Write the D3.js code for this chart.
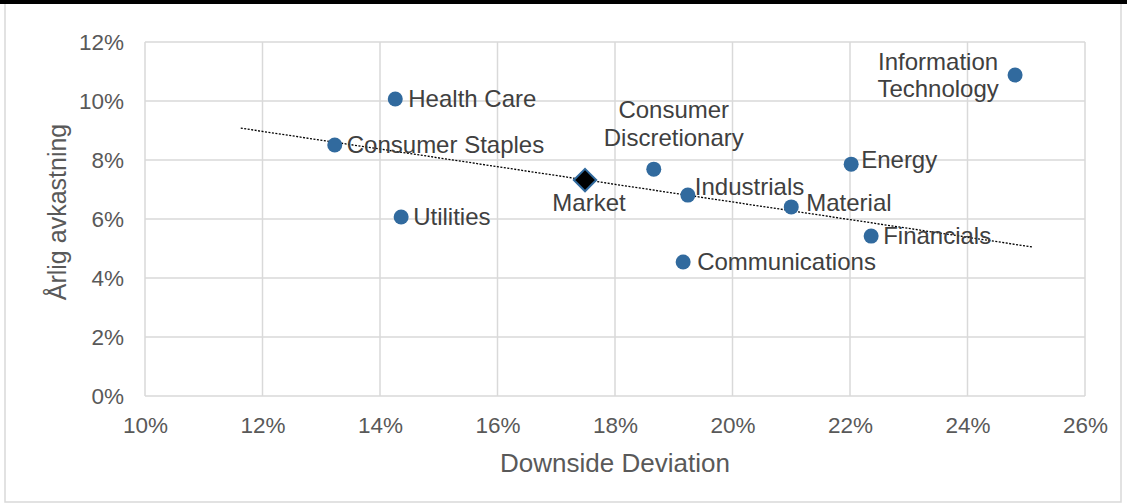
<!DOCTYPE html>
<html>
<head>
<meta charset="utf-8">
<script src="https://cdn.jsdelivr.net/npm/d3@7"></script>
<style>
  body { margin: 0; background: #fff; }
  svg { display: block; font-family: "Liberation Sans", Arial, sans-serif; }
</style>
</head>
<body>
<svg id="chart" width="1127" height="504"></svg>
<script>
// ---- data ----
const sectors = ["Health Care", "Consumer Staples", "Utilities", "Consumer Discretionary", "Industrials",
                 "Communications", "Material", "Energy", "Financials", "Information Technology"];
const downsideDev = [14.26, 13.23, 14.36, 18.66, 19.24, 19.16, 21.00, 22.02, 22.36, 24.81];
const annualReturn = [10.07, 8.51, 6.07, 7.69, 6.81, 4.54, 6.41, 7.86, 5.42, 10.88];
const marketLabel = "Market";
const marketDev = 17.49;
const marketReturn = 7.32;
const trendDev = [11.63, 25.11];
const trendReturn = [9.08, 5.05];
const xTicks = [10, 12, 14, 16, 18, 20, 22, 24, 26];
const yTicks = [0, 2, 4, 6, 8, 10, 12];
const xTitle = "Downside Deviation";
const yTitle = "Årlig avkastning";

// ---- label placement (layout only) ----
const labelLines = {
  "Consumer Discretionary": ["Consumer", "Discretionary"],
  "Information Technology": ["Information", "Technology"]
};
const labelPlace = {
  "Health Care": {dx: 13, dy: [8], anchor: "start"},
  "Consumer Staples": {dx: 12, dy: [8], anchor: "start"},
  "Utilities": {dx: 12, dy: [8], anchor: "start"},
  "Consumer Discretionary": {dx: 20, dy: [-51, -23], anchor: "middle"},
  "Industrials": {dx: 7, dy: [0], anchor: "start"},
  "Communications": {dx: 14, dy: [8], anchor: "start"},
  "Material": {dx: 15, dy: [4], anchor: "start"},
  "Energy": {dx: 10, dy: [4], anchor: "start"},
  "Financials": {dx: 12, dy: [8], anchor: "start"},
  "Information Technology": {dx: -77, dy: [-5, 22], anchor: "middle"}
};

const svg = d3.select("#chart");
const W = 1127, H = 504;
const plot = {left: 145, right: 1085, top: 42, bottom: 396};

// frame
svg.append("rect").attr("x", 5).attr("y", 3).attr("width", 1116).attr("height", 499)
  .attr("fill", "#fff").attr("stroke", "#d9d9d9").attr("stroke-width", 1.5);
svg.append("rect").attr("x", 0).attr("y", 0).attr("width", W).attr("height", 4).attr("fill", "#000");

const x = d3.scaleLinear().domain([10, 26]).range([plot.left, plot.right]);
const y = d3.scaleLinear().domain([0, 12]).range([plot.bottom, plot.top]);

const grid = svg.append("g");
grid.selectAll("line.v").data(xTicks).join("line")
  .attr("x1", d => x(d)).attr("x2", d => x(d))
  .attr("y1", plot.top).attr("y2", plot.bottom)
  .attr("stroke", "#d9d9d9").attr("stroke-width", 1.5);
grid.selectAll("line.h").data(yTicks).join("line")
  .attr("x1", plot.left).attr("x2", plot.right)
  .attr("y1", d => y(d)).attr("y2", d => y(d))
  .attr("stroke", "#d9d9d9").attr("stroke-width", 1.5);

// axes (ticks as text)
const xAxis = d3.axisBottom(x).tickValues(xTicks).tickFormat(d => d + "%").tickSize(0).tickPadding(0);
const gx = svg.append("g").attr("transform", `translate(0,${plot.bottom})`).call(xAxis);
gx.select(".domain").remove();
gx.selectAll("text").attr("font-size", 22.5).attr("fill", "#595959")
  .attr("font-family", "Liberation Sans, Arial, sans-serif").attr("dy", null).attr("y", 37);

const yAxis = d3.axisLeft(y).tickValues(yTicks).tickFormat(d => d + "%").tickSize(0).tickPadding(0);
const gy = svg.append("g").attr("transform", `translate(${plot.left},0)`).call(yAxis);
gy.select(".domain").remove();
gy.selectAll("text").attr("font-size", 22.5).attr("fill", "#595959")
  .attr("font-family", "Liberation Sans, Arial, sans-serif").attr("x", -21).attr("dy", "0.35em");

// axis titles
svg.append("text").attr("x", (plot.left + plot.right) / 2).attr("y", 472)
  .attr("text-anchor", "middle").attr("font-size", 26).attr("fill", "#595959").text(xTitle);
svg.append("text").attr("transform", `translate(66,212) rotate(-90)`)
  .attr("text-anchor", "middle").attr("font-size", 25).attr("fill", "#595959").text(yTitle);

// trend line
svg.append("line")
  .attr("x1", x(trendDev[0])).attr("y1", y(trendReturn[0]))
  .attr("x2", x(trendDev[1])).attr("y2", y(trendReturn[1]))
  .attr("stroke", "#000").attr("stroke-width", 1.3).attr("stroke-dasharray", "2,1.5");

// points
const pts = sectors.map((s, i) => ({name: s, dev: downsideDev[i], ret: annualReturn[i]}));
svg.append("g").selectAll("circle").data(pts).join("circle")
  .attr("cx", d => x(d.dev)).attr("cy", d => y(d.ret)).attr("r", 7.5)
  .attr("fill", "#316a9e");

// market diamond
svg.append("path")
  .attr("d", d3.symbol().type(d3.symbolDiamond2 || d3.symbolSquare2).size(320)())
  .attr("transform", `translate(${x(marketDev)},${y(marketReturn)}) rotate(${d3.symbolDiamond2 ? 0 : 45})`)
  .attr("fill", "#000").attr("stroke", "#316a9e").attr("stroke-width", 2);

// labels
const lbl = svg.append("g").attr("font-size", 24).attr("fill", "#404040");
pts.forEach(d => {
  const p = labelPlace[d.name];
  const lines = labelLines[d.name] || [d.name];
  lines.forEach((t, k) => {
    lbl.append("text").attr("x", x(d.dev) + p.dx).attr("y", y(d.ret) + p.dy[k])
      .attr("text-anchor", p.anchor).text(t);
  });
});
lbl.append("text").attr("x", x(marketDev) + 4).attr("y", y(marketReturn) + 31)
  .attr("text-anchor", "middle").text(marketLabel);
</script>
</body>
</html>
